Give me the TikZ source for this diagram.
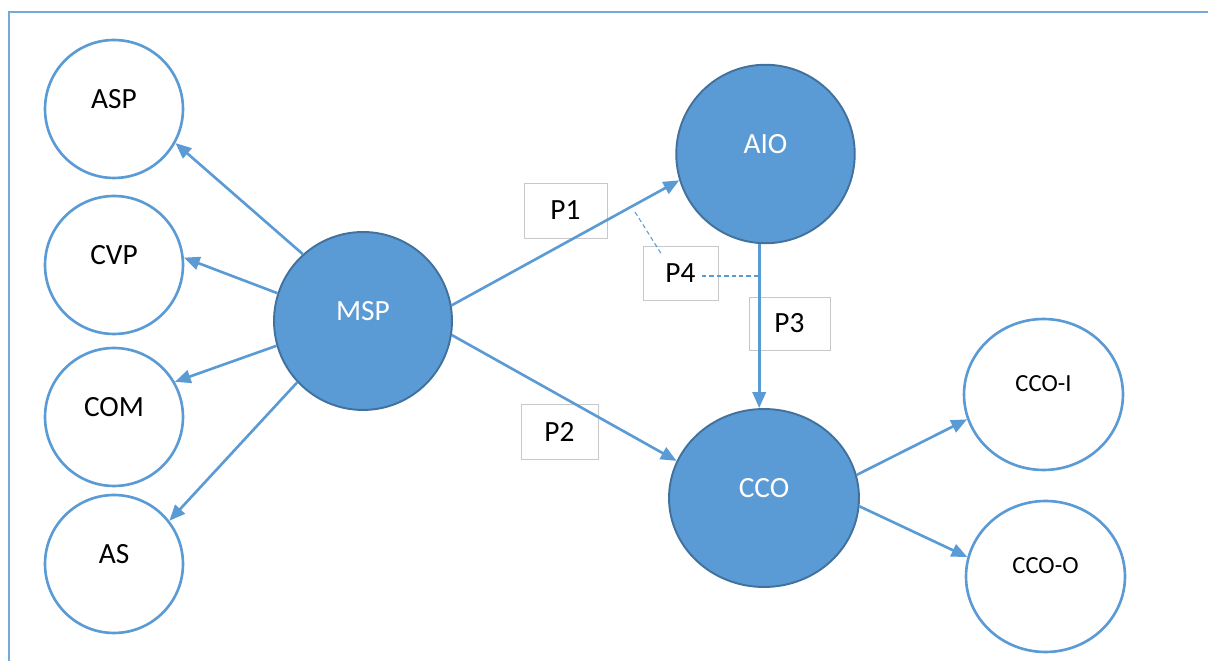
\documentclass[tikz,border=0pt]{standalone}
\usepackage{fontspec}
\setmainfont{Carlito}
\usetikzlibrary{shapes.geometric,arrows.meta}
\definecolor{shapeblue}{HTML}{5B9BD5}
\definecolor{shapeedge}{HTML}{41719C}
\definecolor{boxgray}{HTML}{C8C8C8}

\begin{document}
\begin{tikzpicture}[x=0.02cm, y=-0.02cm,
	factor/.style={ellipse, draw=shapeblue, line width=1.5pt, fill=white, inner sep=0pt, minimum width=2.76cm, minimum height=2.76cm, font=\fontsize{16.7}{20}\selectfont, text height=11pt, text depth=11.6pt},
	construct/.style={ellipse, draw=shapeedge, line width=1.1pt, fill=shapeblue, text=white, inner sep=0pt, font=\fontsize{16.7}{20}\selectfont, text height=11pt, text depth=11.6pt},
	outcome/.style={factor, minimum width=3.18cm, minimum height=3.02cm, font=\fontsize{14}{17}\selectfont, text depth=14pt},
	pbox/.style={draw=boxgray, line width=0.5pt, fill=white, inner sep=0pt, font=\fontsize{16.7}{20}\selectfont},
	link/.style={draw=shapeblue, line width=1.5pt, -{Triangle[length=9pt, width=7.5pt]}},
	moder/.style={draw=shapeblue, line width=0.6pt, dash pattern=on 2.5pt off 1.7pt}]
	\useasboundingbox (0,0) rectangle (1208,661);
	\draw[shapeblue!85, line width=1pt] (9,700) -- (9,12) -- (1250,12);

	\node[factor] (asp) at (114,109) {ASP};
	\node[factor] (cvp) at (114,265) {CVP};
	\node[factor] (com) at (114,417) {COM};
	\node[factor] (as) at (114,564) {AS};
	\node[construct, minimum size=3.56cm] (msp) at (363,321) {MSP};
	\node[construct, minimum size=3.57cm] (aio) at (765.5,154) {AIO};
	\node[construct, minimum width=3.8cm, minimum height=3.56cm] (cco) at (764,498) {CCO};
	\node[outcome] (ccoi) at (1043.5,394.5) {CCO-I};
	\node[outcome] (ccoo) at (1045.5,576.5) {CCO-O};

	\node[pbox, minimum width=1.66cm, minimum height=1.1cm] (p1) at (565.5,210.5) {P1};
	\node[pbox, minimum width=1.54cm, minimum height=1.1cm] (p2) at (559.5,431.5) {P2};
	\node[pbox, minimum width=1.62cm, minimum height=1.06cm] (p3) at (789.5,323.5) {P3};
	\node[pbox, minimum width=1.5cm, minimum height=1.08cm] (p4) at (680.5,273) {P4};

	\draw[link] (msp.132) -- (asp.-29);
	\draw[link] (msp.162) -- (cvp.6);
	\draw[link] (msp.196) -- (com.30);
	\draw[link] (msp.223) -- (as.38);
	\draw[link] (msp.10) -- (aio.197);
	\draw[link] (msp.-9) -- (cco.157);
	\draw[link] (aio.266) -- (aio.266 |- cco.north);
	\draw[link] (cco.14) -- (ccoi.198);
	\draw[link] (cco.-5.5) -- (ccoo.166);

	\coordinate (m1) at (635,212);
	\coordinate (m2) at (662,255);
	\coordinate (m3) at (702,276);
	\draw[moder] (m1) -- (m2);
	\draw[moder] (m3) -- (m3 -| aio.266);
\end{tikzpicture}
\end{document}
